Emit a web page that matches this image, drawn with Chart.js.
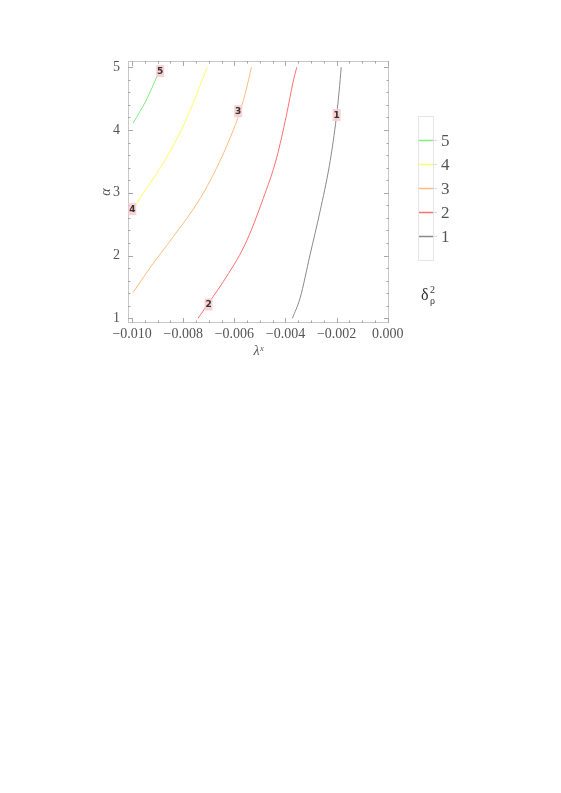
<!DOCTYPE html>
<html>
<head>
<meta charset="utf-8">
<script src="https://cdn.jsdelivr.net/npm/chart.js@4.4.1/dist/chart.umd.min.js"></script>
<style>
  html, body { margin: 0; padding: 0; background: #fff; }
  #wrap { position: relative; width: 561px; height: 793px; }
</style>
</head>
<body>
<div id="wrap"><canvas id="contourChart"></canvas></div>
<script>
// contour levels of delta_rho^2 over (lambda^x, alpha)
const levels = [1, 2, 3, 4, 5];
const levelColors = ["#8a8a8a", "#ff7070", "#ffbb80", "#ffff66", "#80ee80"];

// traced contour lines, [lambda^x, alpha]
const contour1 = [[-0.00373, 1.0], [-0.00343, 1.32], [-0.00304, 2.01], [-0.00265, 2.70], [-0.00228, 3.44], [-0.00204, 4.10], [-0.00190, 4.62], [-0.00182, 5.0]];
const contour2 = [[-0.00742, 1.0], [-0.00696, 1.27], [-0.00644, 1.58], [-0.00559, 2.17], [-0.00487, 2.91], [-0.00435, 3.55], [-0.00396, 4.24], [-0.00370, 4.77], [-0.00356, 5.0]];
const contour3 = [[-0.00996, 1.41], [-0.00931, 1.80], [-0.00839, 2.30], [-0.00735, 2.90], [-0.00670, 3.39], [-0.00612, 3.92], [-0.00578, 4.29], [-0.00552, 4.67], [-0.00533, 5.0]];
const contour4 = [[-0.00996, 2.74], [-0.00957, 2.99], [-0.00905, 3.30], [-0.00853, 3.65], [-0.00805, 4.02], [-0.00766, 4.38], [-0.00733, 4.72], [-0.00706, 5.0]];
const contour5 = [[-0.00996, 4.11], [-0.00944, 4.48], [-0.00900, 4.88]];
const contours = [contour1, contour2, contour3, contour4, contour5];

// where each level number sits on its line
const labelPoints = [[-0.00200, 4.24], [-0.00701, 1.22], [-0.00585, 4.30], [-0.00999, 2.74], [-0.00890, 4.94]];

const xMajor = [-0.010, -0.008, -0.006, -0.004, -0.002, 0.000];
const yMajor = [1, 2, 3, 4, 5];

const SERIF = "'Liberation Serif', 'DejaVu Serif', serif";
const TEXT = "#555";

const fmt = v => {
  const s = Math.abs(v).toFixed(3);
  return v < -1e-9 ? "\u2212" + s : s;
};

const framePlugin = {
  id: "frame",
  afterDatasetsDraw(chart) {
    const { ctx, chartArea: a, scales: { x, y } } = chart;
    ctx.save();
    ctx.strokeStyle = "#c8c8c8";
    ctx.lineWidth = 1;
    ctx.strokeRect(a.left + 0.5, a.top + 0.5, a.right - a.left - 1, a.bottom - a.top - 1);

    ctx.strokeStyle = "#a8a8a8";
    ctx.beginPath();
    // x ticks (major every 0.002, minor every 0.0005)
    for (let i = 0; i <= 20; i++) {
      const v = -0.010 + i * 0.0005;
      const px = Math.round(x.getPixelForValue(v)) + 0.5;
      const len = i % 4 === 0 ? 5 : 2.5;
      ctx.moveTo(px, a.bottom); ctx.lineTo(px, a.bottom - len);
      ctx.moveTo(px, a.top); ctx.lineTo(px, a.top + len);
    }
    // y ticks (major every 1, minor every 0.2)
    for (let i = 0; i <= 20; i++) {
      const v = 1 + i * 0.2;
      const py = Math.round(y.getPixelForValue(v)) + 0.5;
      const len = i % 5 === 0 ? 5 : 2.5;
      ctx.moveTo(a.left, py); ctx.lineTo(a.left + len, py);
      ctx.moveTo(a.right, py); ctx.lineTo(a.right - len, py);
    }
    ctx.stroke();

    // contour level labels
    ctx.font = "bold 9px 'DejaVu Sans', sans-serif";
    ctx.textAlign = "center";
    ctx.textBaseline = "middle";
    labelPoints.forEach((p, i) => {
      const px = x.getPixelForValue(p[0]);
      const py = y.getPixelForValue(p[1]);
      ctx.fillStyle = "rgba(250, 205, 210, 0.9)";
      ctx.fillRect(px - 4, py - 6, 8, 12);
      ctx.fillStyle = "#333";
      ctx.fillText(String(levels[i]), px, py + 0.5);
    });
    ctx.restore();
  },
  afterDraw(chart) {
    // level legend, right of the plot
    const { ctx, chartArea: a } = chart;
    const bx = a.right + 29, bw = 15, by = 116, bh = 144;
    ctx.save();
    ctx.strokeStyle = "#e6e6e6";
    ctx.lineWidth = 1;
    ctx.strokeRect(bx + 0.5, by + 0.5, bw, bh);
    ctx.font = "17px " + SERIF;
    ctx.textAlign = "left";
    ctx.textBaseline = "middle";
    for (let i = levels.length - 1; i >= 0; i--) {
      const ly = Math.round(by + 24 + (levels.length - 1 - i) * 24) + 0.5;
      ctx.strokeStyle = levelColors[i];
      ctx.lineWidth = 1.5;
      ctx.beginPath(); ctx.moveTo(bx + 1, ly); ctx.lineTo(bx + bw, ly); ctx.stroke();
      ctx.strokeStyle = "#ddd";
      ctx.lineWidth = 1;
      ctx.beginPath(); ctx.moveTo(bx + bw, ly); ctx.lineTo(bx + bw + 4, ly); ctx.stroke();
      ctx.fillStyle = TEXT;
      ctx.fillText(String(levels[i]), bx + 23, ly + 1);
    }
    // legend title: delta^2_rho
    ctx.fillStyle = "#333";
    ctx.font = "16px " + SERIF;
    ctx.fillText("\u03b4", bx + 3, 296);
    ctx.font = "10px " + SERIF;
    ctx.fillText("2", bx + 12, 290);
    ctx.fillText("\u03c1", bx + 12, 301);
    ctx.restore();
  }
};

const ctx = document.getElementById("contourChart").getContext("2d");
new Chart(ctx, {
  type: "scatter",
  data: {
    datasets: contours.map((pts, i) => ({
      label: String(levels[i]),
      data: pts.map(p => ({ x: p[0], y: p[1] })),
      showLine: true,
      borderColor: levelColors[i],
      borderWidth: 1,
      pointRadius: 0,
      cubicInterpolationMode: "monotone",
      fill: false
    }))
  },
  options: {
    responsive: true,
    maintainAspectRatio: false,
    animation: false,
    events: [],
    layout: { padding: { left: 98, right: 172, top: 61, bottom: 433 } },
    plugins: { legend: { display: false }, tooltip: { enabled: false } },
    scales: {
      x: {
        type: "linear",
        min: -0.01016,
        max: 0.00005,
        grid: { display: false, drawTicks: false },
        border: { display: false },
        afterBuildTicks: s => { s.ticks = xMajor.map(v => ({ value: v })); },
        afterFit: s => { s.height = 37; },
        ticks: {
          padding: 3,
          color: TEXT,
          font: { family: SERIF, size: 14 },
          maxRotation: 0,
          autoSkip: false,
          callback: v => fmt(v)
        },
        title: {
          display: true,
          text: "\u03bb\u02e3",
          color: TEXT,
          padding: { top: 0, bottom: 0 },
          font: { family: SERIF, size: 14, style: "italic" }
        }
      },
      y: {
        type: "linear",
        min: 0.925,
        max: 5.1,
        grid: { display: false, drawTicks: false },
        border: { display: false },
        afterBuildTicks: s => { s.ticks = yMajor.map(v => ({ value: v })); },
        afterFit: s => { s.width = 30; },
        ticks: {
          padding: 8,
          color: TEXT,
          font: { family: SERIF, size: 14 },
          callback: v => String(v)
        },
        title: {
          display: true,
          text: "\u03b1",
          color: TEXT,
          padding: { top: 0, bottom: 0 },
          font: { family: SERIF, size: 14, style: "italic" }
        }
      }
    }
  },
  plugins: [framePlugin]
});
</script>
</body>
</html>
